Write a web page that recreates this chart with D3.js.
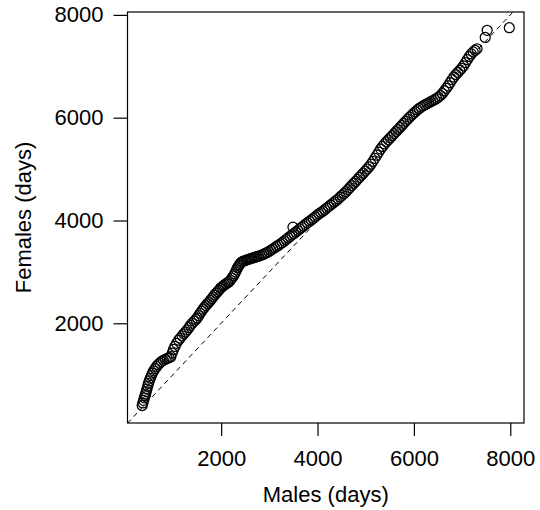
<!DOCTYPE html>
<html>
<head>
<meta charset="utf-8">
<script src="https://cdn.jsdelivr.net/npm/d3@7"></script>
<style>
  body { margin: 0; background: #fff; }
  text { font-family: "Liberation Sans", Arial, sans-serif; fill: #000; }
</style>
</head>
<body>
<script>
// sorted quantiles, males vs females (days)
var males = [
  361, 375, 390, 405, 420, 430, 445, 460, 475, 490,
  510, 530, 550, 575, 600, 630, 660, 690, 725, 760,
  800, 840, 880, 920, 955, 985, 1010, 1040, 1075, 1115,
  1150, 1190, 1225, 1260, 1295, 1330, 1365, 1400, 1440, 1475,
  1505, 1535, 1565, 1595, 1625, 1655, 1685, 1715, 1745, 1775,
  1805, 1835, 1865, 1895, 1925, 1955, 1985, 2015, 2045, 2075,
  2105, 2135, 2165, 2195, 2225, 2255, 2280, 2300, 2320, 2340,
  2360, 2380, 2400, 2425, 2450, 2480, 2510, 2540, 2570, 2600,
  2635, 2670, 2705, 2740, 2775, 2810, 2845, 2880, 2915, 2950,
  2990, 3030, 3070, 3110, 3150, 3190, 3230, 3270, 3310, 3350,
  3390, 3430, 3470, 3490, 3510, 3550, 3590, 3630, 3670, 3710,
  3750, 3790, 3830, 3870, 3910, 3950, 3990, 4030, 4070, 4110,
  4150, 4190, 4230, 4270, 4310, 4350, 4390, 4430, 4470, 4510,
  4550, 4590, 4630, 4670, 4710, 4750, 4790, 4830, 4870, 4910,
  4950, 4990, 5030, 5070, 5110, 5150, 5190, 5230, 5270, 5310,
  5350, 5390, 5430, 5470, 5510, 5550, 5590, 5630, 5670, 5710,
  5750, 5790, 5830, 5870, 5910, 5950, 5990, 6030, 6070, 6110,
  6150, 6190, 6230, 6270, 6310, 6350, 6390, 6430, 6470, 6510,
  6550, 6590, 6630, 6670, 6710, 6750, 6790, 6830, 6870, 6910,
  6950, 6990, 7030, 7070, 7110, 7150, 7190, 7230, 7270, 7310,
  7480, 7520, 7980
];
var females = [
  400, 450, 500, 550, 590, 620, 670, 720, 775, 830,
  880, 930, 980, 1030, 1075, 1120, 1160, 1195, 1225, 1255,
  1280, 1300, 1315, 1330, 1350, 1420, 1490, 1550, 1610, 1670,
  1710, 1755, 1795, 1830, 1870, 1915, 1960, 2000, 2040, 2075,
  2105, 2150, 2195, 2235, 2275, 2310, 2345, 2380, 2410, 2445,
  2480, 2515, 2550, 2585, 2615, 2645, 2680, 2705, 2730, 2750,
  2770, 2790, 2810, 2840, 2880, 2920, 2960, 3000, 3040, 3080,
  3110, 3140, 3170, 3190, 3205, 3215, 3225, 3235, 3245, 3255,
  3265, 3275, 3285, 3295, 3305, 3318, 3330, 3345, 3360, 3375,
  3395, 3420, 3445, 3470, 3495, 3520, 3545, 3570, 3600, 3630,
  3660, 3690, 3720, 3870, 3745, 3775, 3805, 3835, 3865, 3895,
  3925, 3955, 3985, 4010, 4040, 4070, 4100, 4130, 4155, 4180,
  4210, 4240, 4270, 4300, 4330, 4360, 4390, 4420, 4455, 4490,
  4525, 4560, 4600, 4640, 4680, 4720, 4760, 4800, 4840, 4880,
  4920, 4960, 5000, 5045, 5095, 5150, 5210, 5270, 5330, 5390,
  5440, 5490, 5530, 5570, 5610, 5650, 5690, 5730, 5770, 5810,
  5850, 5890, 5930, 5970, 6010, 6045, 6080, 6115, 6150, 6180,
  6205, 6230, 6250, 6270, 6290, 6310, 6330, 6350, 6375, 6400,
  6430, 6470, 6520, 6570, 6620, 6680, 6740, 6790, 6840, 6880,
  6920, 6960, 7010, 7070, 7130, 7190, 7240, 7280, 7310, 7340,
  7560, 7700, 7750
];
var xTicks = [2000, 4000, 6000, 8000];
var yTicks = [2000, 4000, 6000, 8000];

var width = 540, height = 510;
var mLeft = 127.5, mRight = 524, mTop = 12, mBottom = 423;

// R style: data range + 4% each side
function padded(v) {
  var e = d3.extent(v), d = (e[1] - e[0]) * 0.04;
  return [e[0] - d, e[1] + d];
}

var x = d3.scaleLinear().domain(padded(males)).range([mLeft, mRight]);
var y = d3.scaleLinear().domain([60, 8056]).range([mBottom, mTop]);

var svg = d3.select("body").append("svg")
  .attr("width", width)
  .attr("height", height);

svg.append("clipPath")
  .attr("id", "plotclip")
  .append("rect")
  .attr("x", mLeft)
  .attr("y", mTop)
  .attr("width", mRight - mLeft)
  .attr("height", mBottom - mTop);

// y = x reference line
var dom = [Math.min(x.domain()[0], y.domain()[0]), Math.max(x.domain()[1], y.domain()[1])];
svg.append("line")
  .attr("clip-path", "url(#plotclip)")
  .attr("x1", x(dom[0]))
  .attr("y1", y(dom[0]))
  .attr("x2", x(dom[1]))
  .attr("y2", y(dom[1]))
  .attr("stroke", "#000")
  .attr("stroke-width", 1)
  .attr("stroke-dasharray", "5,4");

svg.append("g")
  .selectAll("circle")
  .data(d3.range(males.length))
  .enter().append("circle")
  .attr("cx", function(i) { return x(males[i]); })
  .attr("cy", function(i) { return y(females[i]); })
  .attr("r", 5)
  .attr("fill", "none")
  .attr("stroke", "#000")
  .attr("stroke-width", 1.25);

svg.append("rect")
  .attr("x", mLeft)
  .attr("y", mTop)
  .attr("width", mRight - mLeft)
  .attr("height", mBottom - mTop)
  .attr("fill", "none")
  .attr("stroke", "#000")
  .attr("stroke-width", 1.2);

var xAxis = svg.append("g")
  .attr("transform", "translate(0," + mBottom + ")")
  .call(d3.axisBottom(x).tickValues(xTicks).tickSize(13).tickPadding(14).tickFormat(d3.format("d")));

var yAxis = svg.append("g")
  .attr("transform", "translate(" + mLeft + ",0)")
  .call(d3.axisLeft(y).tickValues(yTicks).tickSize(14).tickPadding(10).tickFormat(d3.format("d")));

[xAxis, yAxis].forEach(function(a) {
  a.select(".domain").remove();
  a.selectAll("line").attr("stroke", "#000").attr("stroke-width", 1.2);
  a.selectAll("text")
    .attr("font-size", 22)
    .attr("font-family", "'Liberation Sans', Arial, sans-serif")
    .attr("fill", "#000");
});

svg.append("text")
  .attr("x", (mLeft + mRight) / 2)
  .attr("y", 502)
  .attr("text-anchor", "middle")
  .attr("font-size", 22)
  .text("Males (days)");

svg.append("text")
  .attr("transform", "translate(31," + (mTop + mBottom) / 2 + ") rotate(-90)")
  .attr("text-anchor", "middle")
  .attr("font-size", 22)
  .text("Females (days)");
</script>
</body>
</html>
